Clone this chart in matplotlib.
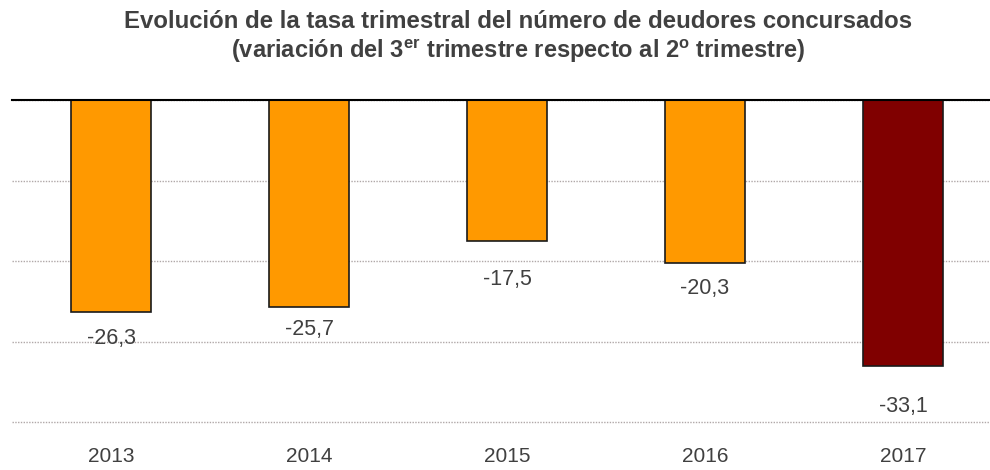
import matplotlib
matplotlib.use("Agg")
import matplotlib.pyplot as plt

categories = ["2013", "2014", "2015", "2016", "2017"]
values = [-26.3, -25.7, -17.5, -20.3, -33.1]
value_labels = ["-26,3", "-25,7", "-17,5", "-20,3", "-33,1"]
colors = ["#FF9900", "#FF9900", "#FF9900", "#FF9900", "#800000"]
label_offsets_pt = [19, 16.5, 28, 18, 29]

plt.rcParams['font.family'] = ['Liberation Sans', 'DejaVu Sans']
plt.rcParams['mathtext.fontset'] = 'custom'
plt.rcParams['mathtext.rm'] = 'Liberation Sans:bold'
plt.rcParams['mathtext.bf'] = 'Liberation Sans:bold'

W, H = 990, 470
fig = plt.figure(figsize=(W / 100, H / 100), dpi=100)
ax = fig.add_axes([12 / W, 1 - 422 / H, (1002 - 12) / W, (422 - 100) / H])

x = range(len(categories))
ax.bar(x, values, width=0.405, color=colors, edgecolor="#1a1a1a", linewidth=1.2, zorder=3)
ax.set_xlim(-0.5, len(categories) - 0.5)
ax.set_ylim(-40, 0)

for i, (v, lab, off) in enumerate(zip(values, value_labels, label_offsets_pt)):
    ax.annotate(lab, (i, v), xytext=(0, -off), textcoords="offset points",
                ha="center", va="center", fontsize=15.5, color="#404040", zorder=4)

ax.set_yticks([-40, -30, -20, -10, 0])
ax.yaxis.grid(True, linestyle=(0, (1, 1)), color="#b0a8a8", linewidth=1, zorder=0)
for gl in ax.get_ygridlines():
    gl.set_clip_on(False)
ax.tick_params(axis="y", left=False, labelleft=False)
ax.set_xticks(list(x))
ax.set_xticklabels(categories, fontsize=15, color="#404040")
ax.tick_params(axis="x", length=0, pad=18)
for s in ["left", "right", "bottom"]:
    ax.spines[s].set_visible(False)
ax.spines["top"].set_color("black")
ax.spines["top"].set_linewidth(1.5)
ax.spines["top"].set_zorder(5)

fig.text(518 / W, 1 - 22 / H, "Evolución de la tasa trimestral del número de deudores concursados",
         ha="center", va="center", fontsize=17.3, fontweight="bold", color="#404040")
fig.text(518 / W, 1 - 51 / H,
         r"(variación del 3$^{\mathrm{er}}$ trimestre respecto al 2$^{\mathrm{o}}$ trimestre)",
         ha="center", va="center", fontsize=17, fontweight="bold", color="#404040")

fig.savefig("out.png", dpi=100)
